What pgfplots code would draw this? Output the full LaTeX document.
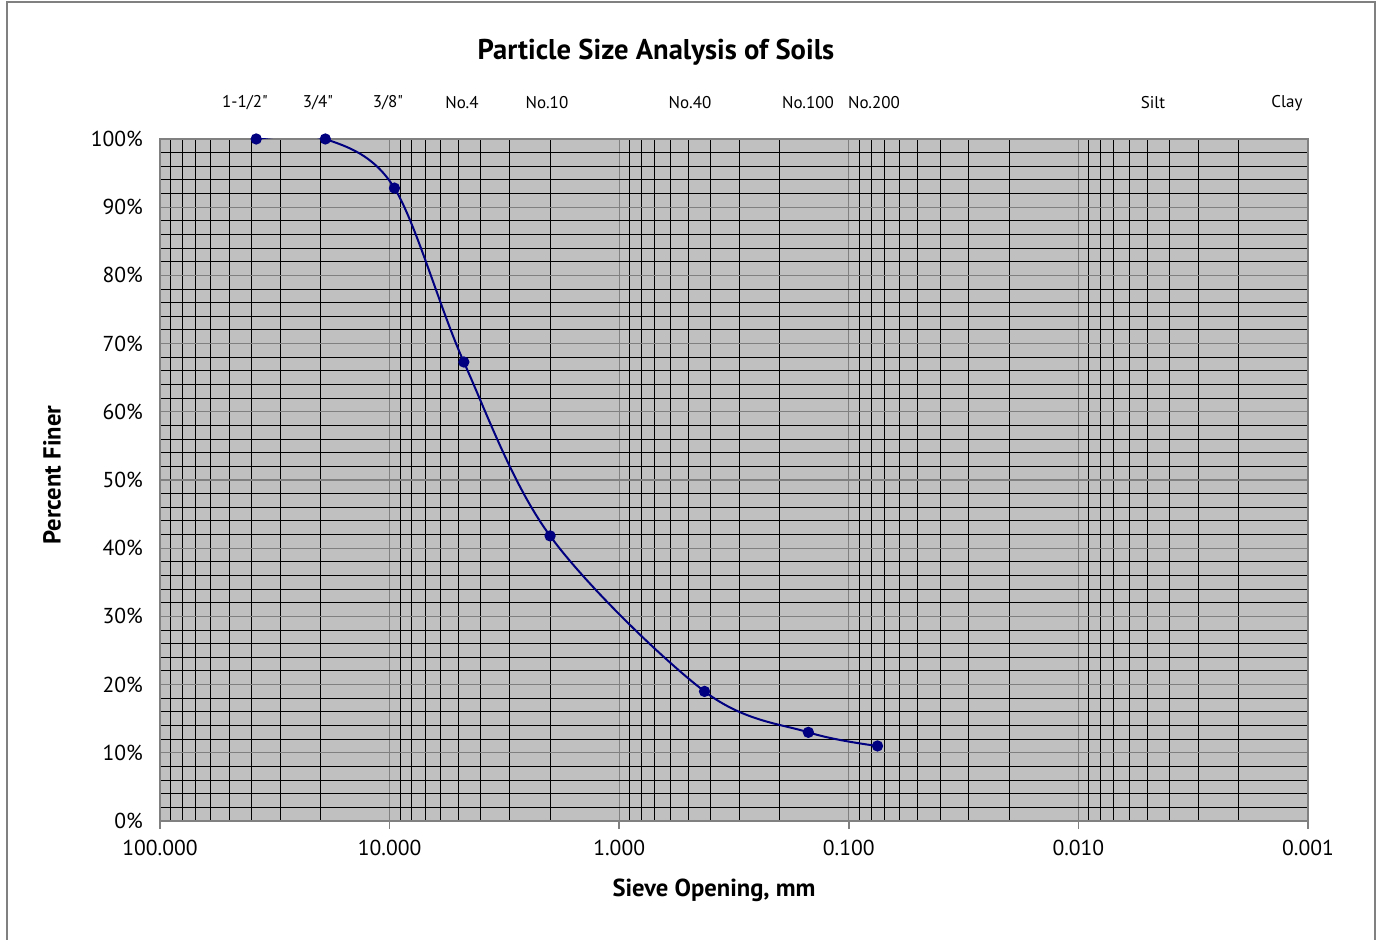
\documentclass[border=0pt]{standalone}
\usepackage{fontspec}
\setmainfont{PT Sans}
\usepackage{pgfplots}
\pgfplotsset{compat=1.18}
\definecolor{plotbg}{RGB}{192,192,192}
\definecolor{navyline}{RGB}{0,0,128}
\definecolor{framegray}{RGB}{128,128,128}
\begin{document}
\begin{tikzpicture}
\path[use as bounding box] (-80pt,-59.5pt) rectangle (611pt,410.5pt);
\draw[framegray, line width=0.8pt] (-76.5pt,-60pt) -- (-76.5pt,409.5pt) -- (607.5pt,409.5pt) -- (607.5pt,-60pt);
\begin{axis}[
  at={(0pt,0pt)}, anchor=south west,
  scale only axis, width=574pt, height=341pt,
  xmode=log, x dir=reverse, xmin=0.001, xmax=100,
  ymin=0, ymax=100,
  axis background/.style={fill=plotbg},
  axis line style={framegray, line width=1pt},
  xtick={0.001,0.01,0.1,1,10,100},
  xticklabels={0.001,0.010,0.100,1.000,10.000,100.000},
  ytick={0,10,...,100},
  yticklabels={0\%,10\%,20\%,30\%,40\%,50\%,60\%,70\%,80\%,90\%,100\%},
  minor ytick={2,4,...,98},
  grid=both,
  major grid style={framegray, line width=0.6pt},
  minor grid style={black, line width=0.5pt},
  xtick pos=bottom, ytick pos=left,
  xtick align=outside,
  major x tick style={framegray, line width=0.8pt},
  major tick length=4pt, minor tick length=0pt,
  major y tick style={draw=none},
  tick label style={font=\fontsize{10.8}{12}\selectfont},
  xticklabel style={yshift=-2pt},
  yticklabel style={xshift=-5pt},
  xlabel={Sieve Opening, mm},
  ylabel={Percent Finer},
  label style={font=\fontsize{12.3}{14}\selectfont\bfseries},
  xlabel style={at={(axis description cs:0.4826,-0.1012)}, anchor=center},
  ylabel style={at={(axis description cs:-0.0941,0.507)}, anchor=center},
  title={Particle Size Analysis of Soils},
  title style={font=\fontsize{14.3}{16}\selectfont\bfseries, at={(axis description cs:0.432,1.110)}, anchor=center},
  clip=true,
]
\addplot[navyline, line width=1pt, smooth, tension=0.55, mark=*, mark size=2.3pt, mark options={fill=navyline, draw=navyline}] coordinates {
  (38.1,100) (19.05,100) (9.525,92.8) (4.75,67.3) (2.0,41.8) (0.425,19.0) (0.15,13.0) (0.075,11.0)
};
\end{axis}
\begin{scope}[font=\fontsize{8.5}{10}\selectfont]
\node at (42.5pt,359pt) {1-1/2\textquotedbl};
\node at (79pt,359pt) {3/4\textquotedbl};
\node at (114pt,359pt) {3/8\textquotedbl};
\node at (151pt,359pt) {No.4};
\node at (193.5pt,359pt) {No.10};
\node at (265pt,359pt) {No.40};
\node at (324pt,359pt) {No.100};
\node at (357pt,359pt) {No.200};
\node at (496.5pt,359pt) {Silt};
\node at (563.5pt,359pt) {Clay};
\end{scope}
\end{tikzpicture}
\end{document}
